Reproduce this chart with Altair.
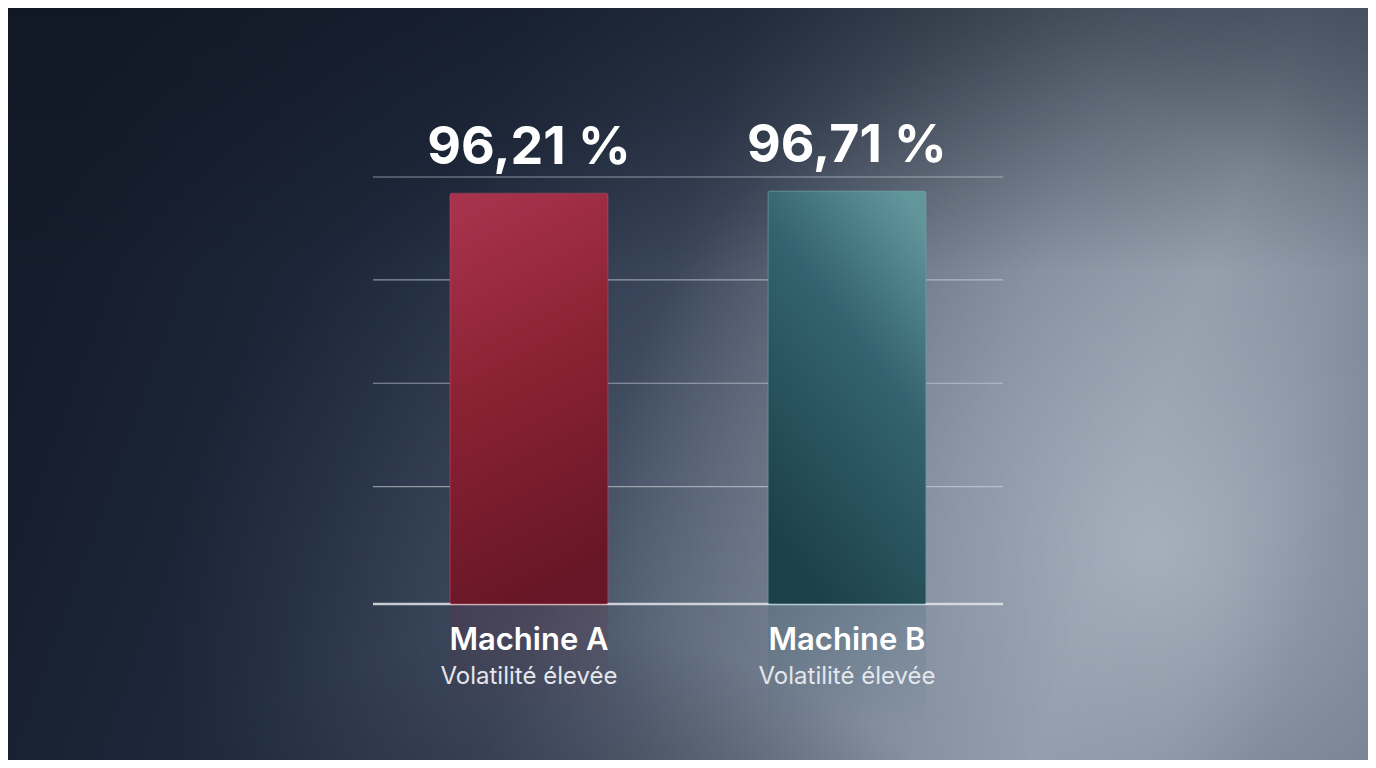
import altair as alt
import pandas as pd

machines = ["Machine A", "Machine B"]
values = [96.21, 96.71]
subtitles = ["Volatilité élevée", "Volatilité élevée"]
grid_values = [27.5, 51.7, 75.9, 100]

W, H = 630, 427
PL, PT, PR, PB = 365, 169, 365, 156

df = pd.DataFrame({"machine": machines, "value": values, "sub": subtitles})
grid_df = pd.DataFrame({"g": grid_values})
base_df = pd.DataFrame({"g": [0]})
bg_df = pd.DataFrame({"k": [0]})

xscale = alt.Scale(domain=machines, paddingInner=0.503, paddingOuter=0.242)
yscale = alt.Scale(domain=[0, 100], nice=False)
X = alt.X("machine:N", scale=xscale, axis=None)

def stops(pairs):
    return [alt.GradientStop(color=c, offset=o) for o, c in pairs]

bg_box = dict(x=alt.value(-PL), x2=alt.value(W + PR), y=alt.value(-PT), y2=alt.value(H + PB))

def bg_layer(fill):
    return alt.Chart(bg_df).mark_rect(fill=fill, strokeWidth=0).encode(**bg_box)

bg1 = bg_layer(alt.LinearGradient(gradient="linear", x1=0, y1=0.4, x2=1, y2=0.6, stops=stops([
    (0.0, "#141b2a"), (0.28, "#1f2a3d"), (0.45, "#323d51"), (0.58, "#55606f"),
    (0.72, "#7a8594"), (0.84, "#8e98a5"), (0.93, "#7c8796"), (1.0, "#667283")
])))

bg2 = bg_layer(alt.RadialGradient(gradient="radial", x1=0.84, y1=0.62, r1=0, x2=0.84, y2=0.62, r2=0.4, stops=stops([
    (0.0, "rgba(172,182,195,0.85)"), (0.5, "rgba(160,170,185,0.4)"), (1.0, "rgba(150,160,175,0)")
])))

bg3 = bg_layer(alt.RadialGradient(gradient="radial", x1=0.5, y1=0.68, r1=0, x2=0.5, y2=0.68, r2=0.38, stops=stops([
    (0.0, "rgba(115,130,152,0.35)"), (1.0, "rgba(115,130,152,0)")
])))

bg4 = bg_layer(alt.LinearGradient(gradient="linear", x1=0, y1=0, x2=0, y2=1, stops=stops([
    (0.0, "rgba(14,20,32,0.45)"), (0.35, "rgba(14,20,32,0)"), (1.0, "rgba(14,20,32,0)")
])))

bg5 = bg_layer(alt.RadialGradient(gradient="radial", x1=1.0, y1=0.05, r1=0, x2=1.0, y2=0.05, r2=0.3, stops=stops([
    (0.0, "rgba(48,60,78,0.9)"), (0.6, "rgba(60,72,90,0.45)"), (1.0, "rgba(60,72,90,0)")
])))

bg6 = bg_layer(alt.RadialGradient(gradient="radial", x1=0.4, y1=1.1, r1=0, x2=0.4, y2=1.1, r2=0.42, stops=stops([
    (0.0, "rgba(24,28,44,0.8)"), (0.6, "rgba(24,28,44,0.4)"), (1.0, "rgba(24,28,44,0)")
])))

grid = alt.Chart(grid_df).mark_rule(color="#d3d8e0", opacity=0.6, strokeWidth=1.2).encode(
    y=alt.Y("g:Q", scale=yscale, axis=None)
)
baseline = alt.Chart(base_df).mark_rule(color="#e2e5ea", opacity=0.85, strokeWidth=2.5).encode(
    y=alt.Y("g:Q", scale=yscale, axis=None)
)

grad_a = alt.LinearGradient(gradient="linear", x1=0.3, y1=0, x2=0.5, y2=1, stops=stops([
    (0.0, "#a7324b"), (0.45, "#8a2233"), (1.0, "#661626")
]))
grad_b = alt.LinearGradient(gradient="linear", x1=0.85, y1=0, x2=0.35, y2=1, stops=stops([
    (0.0, "#62969d"), (0.4, "#33636e"), (1.0, "#1c404a")
]))

refl_a = alt.LinearGradient(gradient="linear", x1=0, y1=0, x2=0, y2=1, stops=stops([
    (0.0, "rgba(110,40,60,0.22)"), (1.0, "rgba(110,40,60,0)")
]))
refl_b = alt.LinearGradient(gradient="linear", x1=0, y1=0, x2=0, y2=1, stops=stops([
    (0.0, "rgba(40,90,100,0.18)"), (1.0, "rgba(40,90,100,0)")
]))

bar_a = alt.Chart(df).transform_filter(alt.datum.machine == "Machine A").mark_bar(
    fill=grad_a, cornerRadius=2, stroke="#c24a62", strokeWidth=0.8, strokeOpacity=0.6
).encode(x=X, y=alt.Y("value:Q", scale=yscale, axis=None))

bar_b = alt.Chart(df).transform_filter(alt.datum.machine == "Machine B").mark_bar(
    fill=grad_b, cornerRadius=2, stroke="#6fa3aa", strokeWidth=0.8, strokeOpacity=0.6
).encode(x=X, y=alt.Y("value:Q", scale=yscale, axis=None))

ref_a = alt.Chart(df).transform_filter(alt.datum.machine == "Machine A").mark_bar(
    fill=refl_a, strokeWidth=0
).encode(x=X, y=alt.value(H), y2=alt.value(H + 120))

ref_b = alt.Chart(df).transform_filter(alt.datum.machine == "Machine B").mark_bar(
    fill=refl_b, strokeWidth=0
).encode(x=X, y=alt.value(H), y2=alt.value(H + 120))

value_labels = alt.Chart(df).transform_calculate(
    lbl="replace(format(datum.value, '.2f'), '.', ',') + ' %'"
).mark_text(
    font="Inter", fontSize=52, fontWeight="bold", color="#ffffff",
    baseline="alphabetic", align="center", dy=-29
).encode(x=X, y=alt.Y("value:Q", scale=yscale, axis=None), text="lbl:N")

name_labels = alt.Chart(df).mark_text(
    font="Inter", fontSize=31, fontWeight=600, color="#ffffff",
    baseline="alphabetic", align="center"
).encode(x=X, y=alt.value(H + 46), text="machine:N")

sub_labels = alt.Chart(df).mark_text(
    font="Inter", fontSize=24, fontWeight="normal", color="#e3e7ec",
    baseline="alphabetic", align="center"
).encode(x=X, y=alt.value(H + 80), text="sub:N")

chart = alt.layer(
    bg1, bg2, bg3, bg4, bg5, bg6, ref_a, ref_b, grid, baseline, bar_a, bar_b,
    value_labels, name_labels, sub_labels
).properties(
    width=W, height=H,
    padding={"left": PL, "top": PT, "right": PR, "bottom": PB},
    autosize=alt.AutoSizeParams(type="none"),
    background="#1a2232"
).configure_view(stroke=None)

chart.save("out.html", embed_options={"renderer": "svg", "actions": False})
